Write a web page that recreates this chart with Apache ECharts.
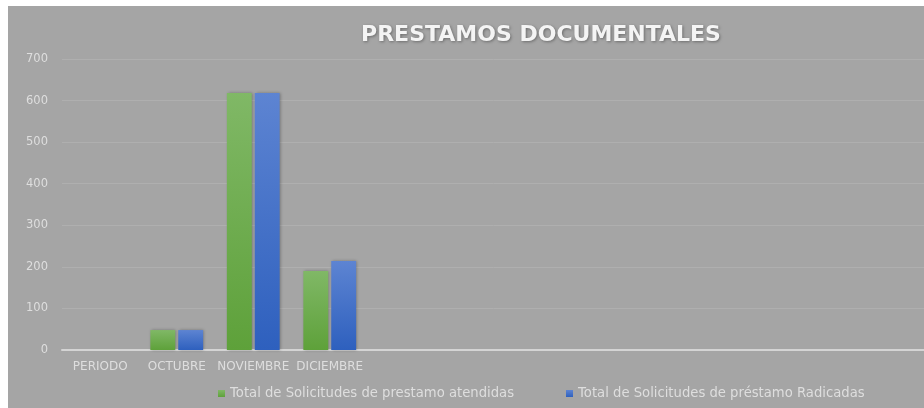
<!DOCTYPE html>
<html>
<head>
<meta charset="utf-8">
<script src="https://cdn.jsdelivr.net/npm/echarts@6/dist/echarts.min.js"></script>
<style>
  html, body { margin: 0; padding: 0; background: #ffffff; }
  #chart { position: absolute; left: 8px; top: 6px; width: 916px; height: 402px; }
</style>
</head>
<body>
<div id="chart"></div>
<script>
// data
const categories = ['PERIODO', 'OCTUBRE', 'NOVIEMBRE', 'DICIEMBRE'];
const emptySlots = ['', '', '', '', '', '', '', ''];
const atendidas = [0, 48, 618, 190];
const radicadas = [0, 48, 618, 214];
const seriesNames = [
  'Total de Solicitudes de prestamo atendidas',
  'Total de Solicitudes de préstamo Radicadas'
];

const axisText = '#dedede';
const font = 'DejaVu Sans';

const chart = echarts.init(document.getElementById('chart'));

const grad = (top, bottom) => new echarts.graphic.LinearGradient(0, 0, 0, 1, [
  {offset: 0, color: top},
  {offset: 1, color: bottom}
]);

chart.setOption({
  backgroundColor: '#a5a5a5',
  animation: false,
  title: {
    text: 'PRESTAMOS DOCUMENTALES',
    left: 528,
    top: 13,
    textAlign: 'center',
    textStyle: {
      color: '#f4f4f4',
      fontFamily: 'DejaVu Sans',
      fontWeight: 'bold',
      fontSize: 22,
      textShadowColor: 'rgba(0,0,0,0.35)',
      textShadowBlur: 3,
      textShadowOffsetX: 1,
      textShadowOffsetY: 1
    }
  },
  legend: {
    left: 205,
    top: 376,
    itemWidth: 7,
    itemHeight: 7,
    itemGap: 52,
    icon: 'rect',
    textStyle: {color: axisText, fontFamily: font, fontSize: 13.2}
  },
  grid: {left: 54, top: 53, width: 918, height: 291, outerBoundsMode: 'none'},
  xAxis: {
    type: 'category',
    data: categories.concat(emptySlots),
    axisLine: {lineStyle: {color: '#d4d4d4', width: 2}},
    axisTick: {show: false},
    axisLabel: {color: axisText, fontFamily: font, fontSize: 12, margin: 11, interval: 0}
  },
  yAxis: {
    type: 'value',
    min: 0,
    max: 700,
    interval: 100,
    axisLine: {show: false},
    axisTick: {show: false},
    axisLabel: {color: axisText, fontFamily: font, fontSize: 11.5, margin: 14},
    splitLine: {lineStyle: {color: '#afafaf', width: 1}}
  },
  series: [
    {
      name: seriesNames[0],
      type: 'bar',
      data: atendidas,
      barGap: '12%',
      barCategoryGap: '31%',
      itemStyle: {
        color: grad('#80b866', '#5ea13a'),
        shadowColor: 'rgba(0,0,0,0.3)',
        shadowBlur: 3,
        shadowOffsetX: 1
      }
    },
    {
      name: seriesNames[1],
      type: 'bar',
      data: radicadas,
      itemStyle: {
        color: grad('#5d84d2', '#2e60be'),
        shadowColor: 'rgba(0,0,0,0.3)',
        shadowBlur: 3,
        shadowOffsetX: 1
      }
    }
  ]
});
</script>
</body>
</html>
